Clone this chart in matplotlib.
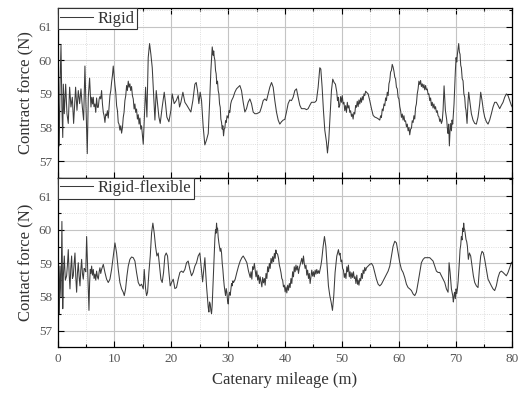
import matplotlib
matplotlib.use("Agg")
import matplotlib.pyplot as plt
from matplotlib.ticker import MultipleLocator

plt.rcParams["font.family"] = ["Liberation Serif", "DejaVu Serif"]

# Rigid catenary
mileage_rigid = [
    0.00, 0.12, 0.28, 0.41, 0.59, 0.75, 0.90, 1.00, 1.17, 1.41,
    1.64, 1.87, 2.11, 2.34, 2.58, 2.81, 3.16, 3.40, 3.63, 3.87,
    4.10, 4.34, 4.57, 4.80, 5.00, 5.21, 5.39, 5.62, 5.86, 6.00,
    6.15, 6.27, 6.39, 6.56, 6.70, 6.85, 7.00, 7.15, 7.30, 7.44,
    7.58, 7.73, 7.88, 8.03, 8.17, 8.32, 8.46, 8.61, 8.75, 8.90,
    9.05, 9.20, 9.35, 9.49, 9.64, 9.78, 9.93, 10.08, 10.22, 10.37,
    10.52, 10.66, 10.80, 10.95, 11.10, 11.25, 11.40, 11.54, 11.68, 11.83,
    11.98, 12.13, 12.27, 12.42, 12.56, 12.71, 12.85, 13.00, 13.15, 13.30,
    13.45, 13.59, 13.73, 13.88, 14.03, 14.18, 14.32, 14.47, 14.62, 14.76,
    14.90, 15.06, 15.23, 15.47, 15.70, 15.93, 16.17, 16.40, 16.64, 16.87,
    17.11, 17.34, 17.57, 17.81, 18.04, 18.39, 18.75, 18.98, 19.21, 19.57,
    19.92, 20.15, 20.50, 20.86, 21.21, 21.44, 21.68, 22.03, 22.38, 22.73,
    23.08, 23.43, 23.78, 24.14, 24.37, 24.60, 24.84, 25.07, 25.31, 25.60,
    25.89, 26.19, 26.49, 26.72, 26.95, 27.08, 27.19, 27.36, 27.45, 27.54,
    27.66, 27.77, 27.88, 28.00, 28.12, 28.24, 28.36, 28.48, 28.60, 28.71,
    28.83, 28.95, 29.06, 29.18, 29.30, 29.41, 29.53, 29.65, 29.80, 30.00,
    30.15, 30.29, 30.44, 30.59, 30.88, 31.17, 31.46, 31.76, 32.05, 32.34,
    32.64, 32.93, 33.22, 33.51, 33.81, 34.10, 34.39, 34.69, 34.98, 35.27,
    35.57, 35.86, 36.15, 36.44, 36.74, 37.03, 37.32, 37.62, 37.91, 38.20,
    38.49, 38.79, 39.08, 39.37, 39.67, 39.96, 40.25, 40.54, 40.84, 41.13,
    41.42, 41.72, 42.01, 42.30, 42.60, 42.89, 43.18, 43.47, 43.77, 44.06,
    44.35, 44.65, 44.94, 45.23, 45.52, 45.82, 46.11, 46.29, 46.52, 46.75,
    46.99, 47.28, 47.46, 47.69, 47.93, 48.16, 48.39, 48.63, 48.86, 49.10,
    49.22, 49.33, 49.48, 49.62, 49.77, 49.92, 50.06, 50.21, 50.36, 50.50,
    50.65, 50.80, 50.95, 51.09, 51.24, 51.38, 51.53, 51.68, 51.82, 51.97,
    52.11, 52.26, 52.41, 52.55, 52.70, 52.85, 53.00, 53.15, 53.30, 53.44,
    53.59, 53.73, 53.88, 54.02, 54.17, 54.32, 54.61, 54.90, 55.20, 55.49,
    55.78, 56.07, 56.37, 56.66, 56.81, 56.95, 57.10, 57.25, 57.40, 57.54,
    57.69, 57.83, 57.98, 58.13, 58.27, 58.42, 58.56, 58.71, 58.85, 59.00,
    59.15, 59.30, 59.44, 59.59, 59.74, 59.88, 60.03, 60.18, 60.32, 60.47,
    60.62, 60.76, 60.91, 61.05, 61.20, 61.35, 61.50, 61.64, 61.79, 61.93,
    62.08, 62.23, 62.37, 62.52, 62.67, 62.81, 62.96, 63.10, 63.25, 63.40,
    63.54, 63.69, 63.84, 63.98, 64.13, 64.28, 64.42, 64.57, 64.72, 64.86,
    65.01, 65.16, 65.30, 65.45, 65.60, 65.74, 65.89, 66.03, 66.18, 66.33,
    66.47, 66.62, 66.77, 66.91, 67.06, 67.21, 67.35, 67.50, 67.65, 67.79,
    67.97, 68.20, 68.44, 68.56, 68.67, 68.79, 68.90, 69.02, 69.14, 69.26,
    69.37, 69.49, 69.61, 69.72, 69.84, 69.96, 70.08, 70.20, 70.31, 70.43,
    70.54, 70.66, 70.78, 70.90, 71.01, 71.16, 71.31, 71.45, 71.60, 71.72,
    71.83, 72.01, 72.19, 72.30, 72.54, 72.77, 73.06, 73.36, 73.65, 73.94,
    74.24, 74.41, 74.65, 74.88, 75.11, 75.41, 75.70, 75.99, 76.29, 76.58,
    76.87, 77.16, 77.46, 77.75, 78.04, 78.34, 78.63, 78.92, 79.22, 79.51,
    79.80, 80.00,
]
force_rigid = [
    58.70, 59.00, 57.45, 59.20, 60.45, 58.60, 57.70, 59.29, 58.41, 59.29,
    58.41, 58.12, 59.20, 58.61, 58.90, 58.12, 59.20, 58.51, 59.10, 58.71,
    59.15, 58.61, 58.22, 59.83, 58.50, 57.22, 58.90, 59.47, 58.61, 58.90,
    58.70, 58.90, 58.62, 58.70, 58.45, 58.88, 58.60, 58.60, 58.85, 58.92,
    58.85, 59.10, 58.70, 58.45, 58.35, 58.15, 58.40, 58.35, 58.50, 58.28,
    58.60, 58.95, 59.10, 59.35, 59.55, 59.83, 59.55, 59.25, 59.05, 58.65,
    58.50, 58.15, 58.10, 57.92, 58.05, 57.83, 58.00, 58.30, 58.45, 58.80,
    58.95, 59.25, 59.10, 59.38, 59.20, 59.30, 59.10, 59.22, 58.95, 58.85,
    58.55, 58.70, 58.45, 58.55, 58.25, 58.38, 58.10, 58.28, 57.95, 58.05,
    57.80, 57.50, 58.22, 59.20, 58.31, 60.08, 60.50, 60.18, 59.78, 59.00,
    58.22, 59.10, 58.71, 58.31, 58.12, 58.61, 59.05, 58.71, 58.31, 58.17,
    58.51, 59.00, 58.71, 58.80, 58.95, 58.61, 58.75, 59.05, 58.75, 58.66,
    58.56, 58.46, 58.80, 59.29, 59.34, 59.10, 58.71, 59.05, 58.80, 58.02,
    57.48, 57.63, 57.82, 58.71, 59.69, 60.10, 60.40, 60.15, 60.28, 60.10,
    60.00, 59.70, 59.60, 59.30, 59.38, 59.10, 59.00, 58.70, 58.60, 58.25,
    58.15, 57.95, 58.05, 57.75, 57.95, 57.98, 58.20, 58.15, 58.35, 58.28,
    58.50, 58.45, 58.70, 58.80, 58.90, 59.05, 59.15, 59.20, 59.25, 59.10,
    58.75, 58.46, 58.56, 58.75, 58.85, 58.71, 58.46, 58.41, 58.41, 58.43,
    58.46, 58.61, 58.80, 58.85, 58.80, 59.00, 59.20, 59.34, 59.20, 58.80,
    58.46, 58.22, 58.10, 58.17, 58.22, 58.24, 58.46, 58.71, 58.82, 58.80,
    58.90, 59.10, 59.15, 58.90, 58.66, 58.56, 58.56, 58.56, 58.53, 58.56,
    58.66, 58.75, 58.75, 58.75, 58.80, 59.20, 59.78, 59.74, 59.20, 58.51,
    57.92, 57.57, 57.24, 57.63, 58.41, 59.10, 59.44, 59.34, 59.29, 59.05,
    58.80, 58.90, 58.60, 58.66, 58.92, 58.75, 58.95, 58.70, 58.75, 58.50,
    58.65, 58.45, 58.75, 58.58, 58.65, 58.45, 58.50, 58.33, 58.40, 58.25,
    58.45, 58.40, 58.65, 58.60, 58.78, 58.62, 58.82, 58.70, 58.88, 58.75,
    58.92, 58.82, 59.00, 58.95, 59.08, 59.05, 59.00, 58.80, 58.56, 58.36,
    58.31, 58.29, 58.26, 58.22, 58.35, 58.30, 58.55, 58.50, 58.70, 58.65,
    58.88, 58.80, 59.05, 58.95, 59.30, 59.40, 59.65, 59.70, 59.88, 59.80,
    59.68, 59.50, 59.45, 59.20, 59.15, 58.90, 58.85, 58.62, 58.50, 58.30,
    58.40, 58.22, 58.35, 58.18, 58.20, 58.02, 58.10, 57.90, 58.00, 57.78,
    57.95, 57.98, 58.20, 58.15, 58.35, 58.25, 58.60, 58.70, 59.00, 59.15,
    59.38, 59.28, 59.40, 59.22, 59.30, 59.18, 59.28, 59.12, 59.25, 59.12,
    59.15, 58.98, 59.00, 58.80, 58.88, 58.65, 58.75, 58.58, 58.70, 58.55,
    58.62, 58.45, 58.50, 58.35, 58.32, 58.18, 58.25, 58.12, 58.20, 58.51,
    59.24, 58.51, 58.22, 57.95, 57.82, 58.10, 57.45, 57.90, 58.12, 57.90,
    58.22, 58.10, 58.41, 58.70, 59.20, 59.70, 60.08, 59.95, 60.18, 60.35,
    60.50, 60.25, 60.18, 59.85, 59.78, 59.45, 59.39, 59.00, 58.90, 58.60,
    58.51, 58.12, 58.80, 59.05, 58.71, 58.41, 58.22, 58.12, 58.10, 58.31,
    58.71, 59.05, 58.80, 58.51, 58.31, 58.17, 58.10, 58.22, 58.41, 58.61,
    58.75, 58.75, 58.66, 58.56, 58.66, 58.75, 58.90, 59.00, 58.95, 58.80,
    58.66, 58.60,
]

# Rigid-flexible catenary
mileage_flex = [
    0.00, 0.12, 0.30, 0.41, 0.60, 0.75, 0.90, 1.00, 1.17, 1.35,
    1.58, 1.72, 1.87, 2.02, 2.17, 2.31, 2.46, 2.60, 2.75, 2.90,
    3.05, 3.19, 3.34, 3.48, 3.63, 3.78, 3.93, 4.07, 4.22, 4.36,
    4.51, 4.66, 4.80, 4.95, 5.10, 5.30, 5.51, 5.62, 5.74, 5.86,
    5.98, 6.12, 6.27, 6.41, 6.56, 6.70, 6.85, 7.00, 7.15, 7.30,
    7.44, 7.58, 7.73, 8.03, 8.32, 8.61, 8.90, 9.20, 9.49, 9.78,
    10.08, 10.37, 10.66, 10.95, 11.25, 11.54, 11.72, 11.95, 12.19, 12.42,
    12.71, 13.00, 13.30, 13.59, 13.88, 14.18, 14.47, 14.76, 15.06, 15.23,
    15.47, 15.64, 15.82, 16.05, 16.29, 16.52, 16.75, 16.99, 17.22, 17.46,
    17.69, 17.93, 18.16, 18.39, 18.63, 18.86, 19.10, 19.33, 19.57, 19.80,
    20.04, 20.33, 20.62, 20.91, 21.21, 21.50, 21.79, 22.08, 22.38, 22.67,
    22.96, 23.26, 23.55, 23.84, 24.14, 24.43, 24.72, 25.01, 25.25, 25.50,
    25.70, 25.90, 26.05, 26.20, 26.37, 26.48, 26.60, 26.72, 26.84, 26.95,
    27.07, 27.18, 27.30, 27.42, 27.54, 27.66, 27.77, 27.86, 27.95, 28.04,
    28.13, 28.24, 28.36, 28.48, 28.59, 28.71, 28.83, 28.95, 29.06, 29.18,
    29.30, 29.41, 29.53, 29.65, 29.77, 29.88, 30.00, 30.12, 30.23, 30.35,
    30.47, 30.59, 30.70, 30.82, 30.94, 31.23, 31.52, 31.82, 32.11, 32.40,
    32.64, 32.99, 33.28, 33.57, 33.87, 34.01, 34.16, 34.30, 34.45, 34.60,
    34.74, 34.89, 35.04, 35.18, 35.33, 35.48, 35.62, 35.77, 35.92, 36.06,
    36.21, 36.36, 36.50, 36.65, 36.80, 36.94, 37.09, 37.24, 37.38, 37.53,
    37.68, 37.82, 37.97, 38.12, 38.26, 38.38, 38.50, 38.68, 38.85, 39.00,
    39.14, 39.29, 39.43, 39.58, 39.72, 39.87, 40.02, 40.16, 40.31, 40.46,
    40.60, 40.75, 40.89, 41.04, 41.19, 41.33, 41.48, 41.62, 41.77, 41.92,
    42.06, 42.21, 42.36, 42.50, 42.65, 42.80, 42.94, 43.09, 43.24, 43.38,
    43.53, 43.68, 43.82, 43.97, 44.12, 44.26, 44.41, 44.56, 44.70, 44.85,
    45.00, 45.14, 45.29, 45.44, 45.58, 45.73, 45.88, 46.02, 46.17, 46.32,
    46.46, 46.70, 46.93, 47.17, 47.40, 47.63, 47.87, 48.10, 48.34, 48.57,
    48.80, 49.10, 49.39, 49.54, 49.68, 49.83, 49.98, 50.12, 50.27, 50.42,
    50.56, 50.71, 50.86, 51.00, 51.15, 51.30, 51.44, 51.59, 51.74, 51.88,
    52.03, 52.18, 52.32, 52.47, 52.62, 52.76, 52.85, 53.00, 53.15, 53.30,
    53.44, 53.59, 53.73, 53.88, 54.02, 54.17, 54.32, 54.61, 54.90, 55.20,
    55.49, 55.78, 56.07, 56.37, 56.66, 56.95, 57.25, 57.54, 57.83, 58.13,
    58.42, 58.71, 59.00, 59.30, 59.59, 59.88, 60.18, 60.47, 60.76, 61.05,
    61.35, 61.64, 61.93, 62.23, 62.52, 62.81, 63.10, 63.40, 63.69, 63.98,
    64.28, 64.57, 64.86, 65.16, 65.45, 65.74, 66.03, 66.33, 66.62, 66.91,
    67.21, 67.50, 67.79, 68.09, 68.38, 68.67, 68.85, 69.03, 69.26, 69.49,
    69.60, 69.67, 69.76, 69.84, 69.96, 70.08, 70.20, 70.31, 70.43, 70.54,
    70.66, 70.78, 70.90, 71.01, 71.13, 71.25, 71.33, 71.42, 71.50, 71.60,
    71.72, 71.83, 71.95, 72.07, 72.24, 72.42, 72.65, 72.89, 73.12, 73.36,
    73.65, 73.94, 74.18, 74.41, 74.65, 74.88, 75.11, 75.41, 75.70, 75.99,
    76.29, 76.58, 76.87, 77.16, 77.46, 77.75, 78.04, 78.34, 78.63, 78.92,
    79.22, 79.51, 79.80, 80.00,
]
force_flex = [
    58.73, 59.22, 57.50, 58.92, 58.00, 60.25, 57.65, 58.60, 59.22, 58.50,
    58.63, 58.95, 59.41, 58.70, 58.24, 58.85, 59.22, 58.55, 58.63, 59.00,
    59.31, 58.60, 58.14, 58.70, 59.02, 58.60, 58.33, 58.80, 59.12, 58.70,
    58.53, 58.85, 58.82, 58.75, 59.80, 58.70, 57.60, 58.40, 58.82, 58.70,
    58.92, 58.65, 58.82, 58.55, 58.68, 58.50, 58.77, 58.60, 58.53, 58.75,
    58.87, 58.70, 58.82, 58.97, 58.73, 58.53, 58.43, 58.53, 58.82, 59.22,
    59.61, 59.31, 58.82, 58.43, 58.24, 58.14, 58.04, 58.24, 58.63, 58.92,
    59.12, 59.19, 59.17, 59.07, 58.73, 58.43, 58.33, 58.38, 58.24, 58.82,
    58.24, 58.04, 58.14, 58.73, 59.22, 59.90, 60.20, 59.90, 59.51, 59.22,
    59.31, 58.92, 58.53, 58.43, 58.73, 59.22, 59.31, 59.22, 58.73, 58.33,
    58.43, 58.53, 58.25, 58.28, 58.53, 58.73, 58.77, 58.73, 58.82, 59.02,
    59.07, 58.82, 58.63, 58.73, 58.92, 59.02, 59.22, 59.31, 58.90, 58.45,
    58.80, 59.17, 58.70, 58.30, 57.94, 57.70, 57.55, 57.85, 57.79, 57.60,
    57.50, 57.75, 58.24, 58.80, 59.22, 59.75, 60.00, 59.90, 60.20, 60.00,
    60.05, 59.78, 59.61, 59.48, 59.36, 59.45, 59.31, 59.00, 58.82, 58.55,
    58.33, 58.20, 58.04, 58.25, 58.14, 57.90, 57.79, 58.05, 58.14, 58.05,
    58.24, 58.40, 58.33, 58.48, 58.43, 58.53, 58.73, 58.92, 59.07, 59.17,
    59.22, 59.12, 59.02, 58.77, 58.58, 58.75, 58.53, 58.90, 58.82, 59.00,
    58.80, 58.60, 58.78, 58.50, 58.65, 58.40, 58.60, 58.45, 58.30, 58.58,
    58.42, 58.55, 58.35, 58.70, 58.55, 58.90, 58.75, 59.00, 58.85, 59.15,
    59.00, 59.20, 59.05, 59.30, 59.15, 59.40, 59.30, 59.28, 59.15, 58.95,
    58.85, 58.72, 58.55, 58.50, 58.30, 58.35, 58.15, 58.30, 58.12, 58.35,
    58.20, 58.40, 58.28, 58.55, 58.40, 58.75, 58.60, 58.90, 58.75, 58.95,
    58.80, 58.92, 58.70, 58.85, 58.95, 59.05, 59.15, 58.98, 59.22, 59.00,
    58.85, 58.95, 58.65, 58.80, 58.55, 58.70, 58.40, 58.60, 58.80, 58.62,
    58.75, 58.60, 58.80, 58.68, 58.82, 58.70, 58.78, 58.70, 58.82, 58.95,
    59.12, 59.51, 59.80, 59.51, 58.92, 58.33, 58.04, 57.85, 57.60, 58.04,
    58.73, 59.22, 59.41, 59.25, 59.30, 59.05, 59.10, 58.85, 58.80, 58.58,
    58.70, 58.55, 58.90, 58.75, 58.95, 58.60, 58.75, 58.55, 58.72, 58.58,
    58.75, 58.55, 58.60, 58.40, 58.65, 58.38, 58.50, 58.35, 58.55, 58.48,
    58.70, 58.55, 58.80, 58.70, 58.88, 58.78, 58.87, 58.92, 58.97, 59.00,
    58.92, 58.73, 58.53, 58.38, 58.33, 58.38, 58.48, 58.58, 58.68, 58.77,
    58.92, 59.22, 59.51, 59.66, 59.61, 59.31, 59.02, 58.82, 58.73, 58.58,
    58.38, 58.28, 58.24, 58.19, 58.09, 58.04, 58.14, 58.43, 58.73, 59.02,
    59.12, 59.17, 59.17, 59.17, 59.17, 59.12, 59.07, 58.92, 58.77, 58.73,
    58.73, 58.63, 58.53, 58.43, 58.24, 58.14, 59.02, 58.73, 58.24, 58.04,
    57.85, 57.94, 58.10, 58.14, 57.95, 58.24, 58.10, 58.24, 58.45, 58.73,
    59.05, 59.41, 59.55, 59.80, 59.70, 60.05, 59.95, 60.20, 60.05, 60.00,
    59.85, 59.71, 59.65, 59.51, 59.12, 59.31, 59.22, 58.92, 58.63, 58.43,
    58.33, 58.28, 58.82, 59.22, 59.36, 59.31, 59.12, 58.82, 58.53, 58.43,
    58.33, 58.24, 58.19, 58.33, 58.58, 58.73, 58.77, 58.73, 58.68, 58.63,
    58.73, 58.87, 59.02, 59.05,
]

series_names = ["Rigid", "Rigid-flexible"]
y_labels = ["Contract force (N)", "Contact force (N)"]
x_label = "Catenary mileage (m)"
y_ticks = [57, 58, 59, 60, 61]
x_ticks = [0, 10, 20, 30, 40, 50, 60, 70, 80]

fig, axes = plt.subplots(2, 1, sharex=True, figsize=(5.24, 3.96), dpi=100)
fig.subplots_adjust(left=0.110, right=0.978, top=0.979, bottom=0.123, hspace=0)

data = [(mileage_rigid, force_rigid), (mileage_flex, force_flex)]

for ax, (x, y), name, ylab in zip(axes, data, series_names, y_labels):
    ax.plot(x, y, color="#3c3c3c", lw=0.75, label=name)

    ax.set_xlim(0, 80)
    ax.set_ylim(56.5, 61.55)
    ax.set_xticks(x_ticks)
    ax.set_yticks(y_ticks)
    ax.xaxis.set_minor_locator(MultipleLocator(5))
    ax.yaxis.set_minor_locator(MultipleLocator(0.5))

    ax.grid(which="major", color="#c4c4c4", lw=0.8)
    ax.grid(which="minor", color="#d4d4d4", lw=0.6, ls=":")
    ax.set_axisbelow(True)

    ax.tick_params(which="both", direction="in", top=True, right=True,
                   labelsize=9.5, labelcolor="#555555", width=0.8, pad=4)
    ax.tick_params(which="major", length=4)
    ax.tick_params(which="minor", length=2.5)
    for s in ax.spines.values():
        s.set_linewidth(0.9)

    ax.set_ylabel(ylab, fontsize=12, color="#333333", labelpad=3)

    leg = ax.legend(loc="upper left", borderaxespad=0, fancybox=False,
                    edgecolor="#333333", framealpha=1, fontsize=12,
                    handlelength=2.0, borderpad=0.15, handletextpad=0.25)
    leg.get_frame().set_linewidth(0.8)
    for t in leg.get_texts():
        t.set_color("#333333")

axes[1].set_xlabel(x_label, fontsize=12, color="#333333", labelpad=5)

plt.savefig("out.png", dpi=100)
